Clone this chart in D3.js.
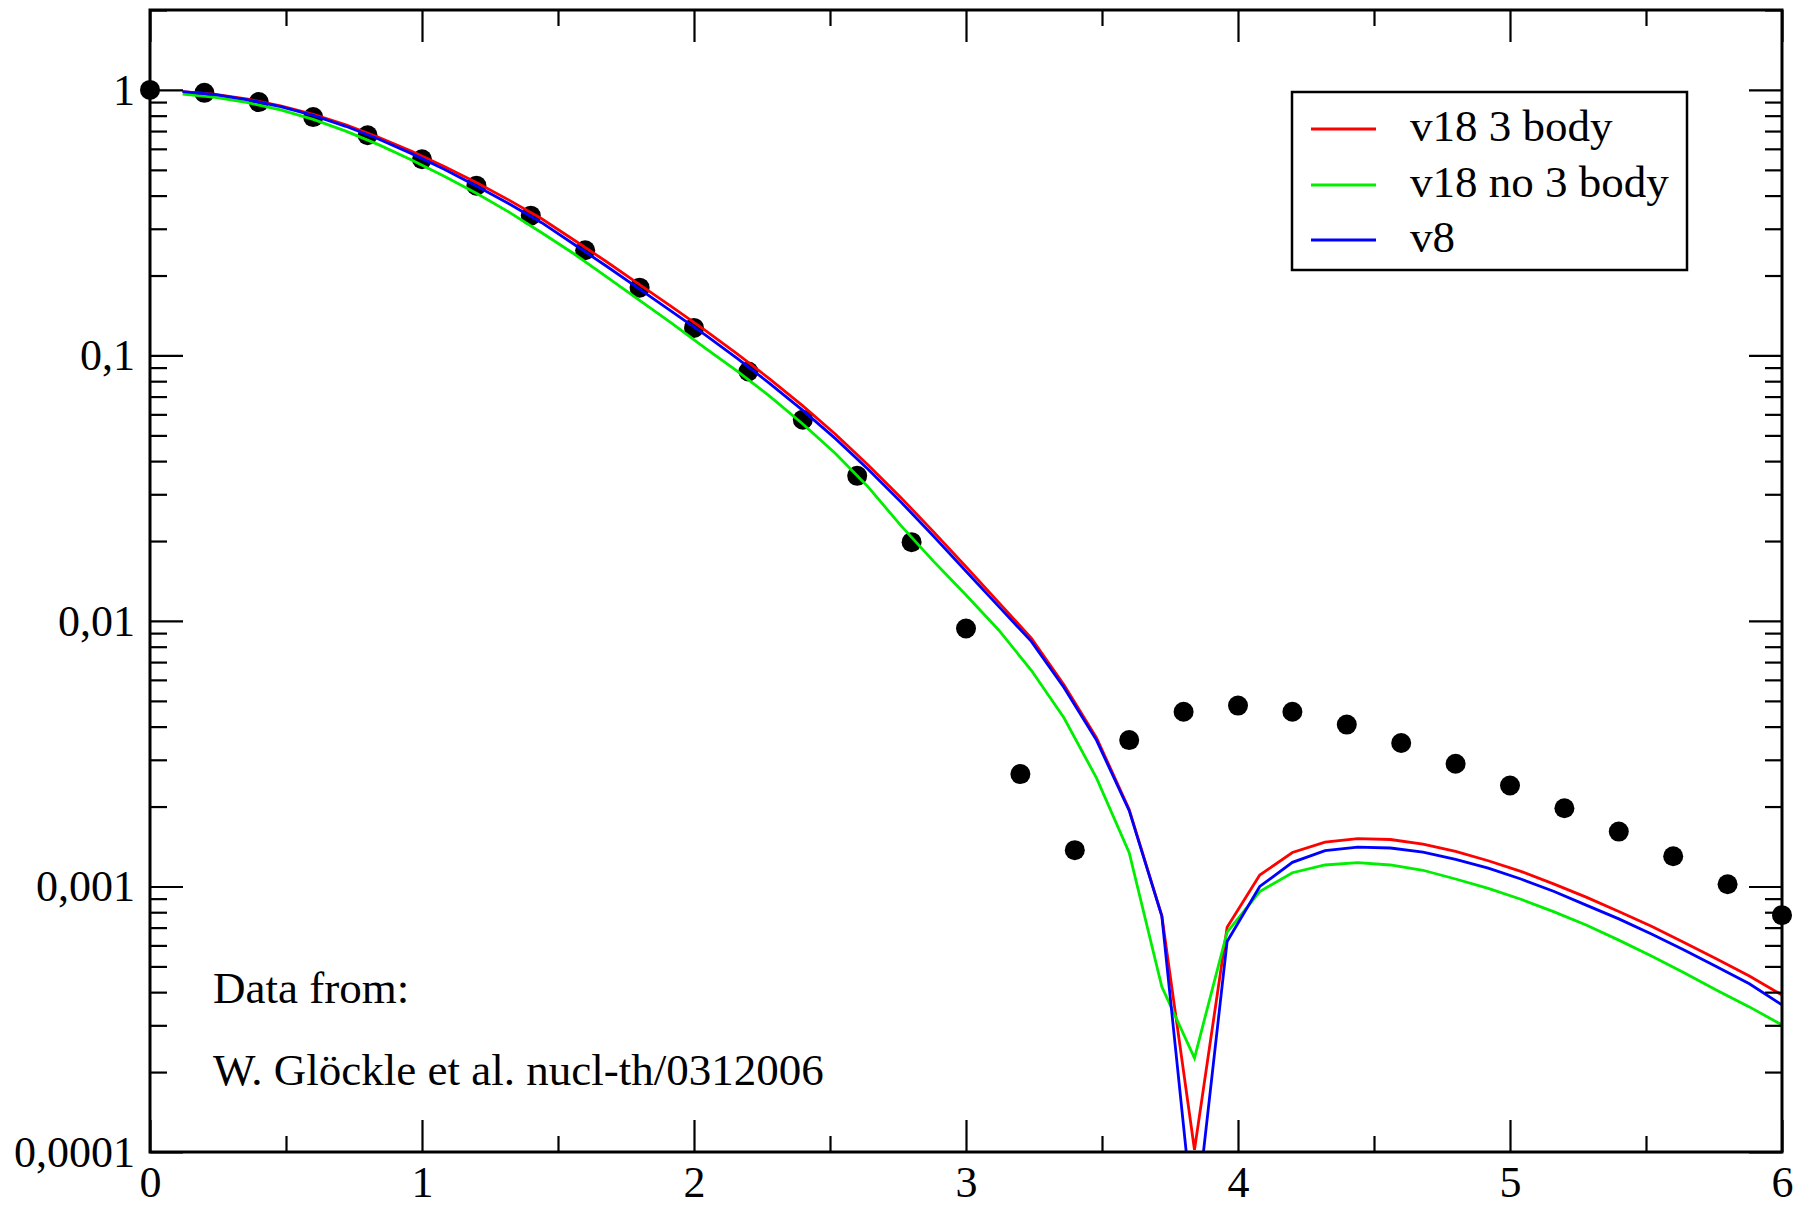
<!DOCTYPE html>
<html>
<head>
<meta charset="utf-8">
<script src="https://cdn.jsdelivr.net/npm/d3@7"></script>
<style>
  html, body { margin: 0; padding: 0; background: #fff; }
  svg { display: block; }
  text { font-family: "Liberation Serif", "Times New Roman", serif; fill: #000; }
</style>
</head>
<body>
<svg id="chart" width="1798" height="1207"></svg>
<script>
// ---- data ----
const curveX = [0.12,0.24,0.36,0.48,0.60,0.72,0.84,0.96,1.08,1.20,1.32,1.44,1.56,1.68,1.80,1.92,2.04,2.16,2.28,2.40,
  2.52,2.64,2.76,2.88,3.00,3.12,3.24,3.36,3.48,3.60,3.72,3.84,3.96,4.08,4.20,4.32,4.44,4.56,4.68,4.80,
  4.92,5.04,5.16,5.28,5.40,5.52,5.64,5.76,5.88,6.00];

const v18ThreeBody = [0.9863,0.9616,0.9226,0.8710,0.8091,0.7396,0.6637,0.5888,0.5164,0.4477,0.3846,0.3273,0.2716,0.2249,0.1849,0.1521,0.1245,0.1012,0.0813,0.0646,
  0.0505,0.0387,0.0292,0.0217,0.0160,0.01175,0.00861,0.00575,0.00363,0.00195,0.000776,0.000102,0.000702,0.001104,0.001343,0.001469,0.001514,0.001503,0.001445,0.001355,
  0.001250,0.001140,0.001023,0.000912,0.000805,0.000708,0.000615,0.000533,0.000460,0.000390];

const v18NoThreeBody = [0.9638,0.9376,0.8954,0.8414,0.7745,0.6998,0.6223,0.5458,0.4742,0.4083,0.3467,0.2897,0.2410,0.1972,0.1611,0.1318,0.1067,0.0871,0.0700,0.0552,
  0.0427,0.0320,0.0229,0.0168,0.01253,0.00925,0.00652,0.00432,0.00256,0.00134,0.000419,0.000226,0.000673,0.000957,0.001127,0.001205,0.001230,0.001205,0.001151,0.001067,
  0.000984,0.000895,0.000804,0.000716,0.000628,0.000547,0.000473,0.000407,0.000352,0.000301];

const v8 = [0.9863,0.9594,0.9183,0.8650,0.8017,0.7295,0.6531,0.5768,0.5035,0.4345,0.3724,0.3162,0.2618,0.2163,0.1778,0.1459,0.1197,0.0973,0.0782,0.0621,
  0.0486,0.0373,0.0281,0.0209,0.0154,0.01135,0.00838,0.00562,0.00355,0.00193,0.000773,0.0000501,0.000621,0.001000,0.001233,0.001365,0.001406,0.001396,0.001346,0.001265,
  0.001172,0.001067,0.000959,0.000851,0.000755,0.000662,0.000577,0.000499,0.000430,0.000358];

const dataX = [0,0.2,0.4,0.6,0.8,1.0,1.2,1.4,1.6,1.8,2.0,2.2,2.4,2.6,2.8,3.0,3.2,3.4,3.6,3.8,4.0,4.2,4.4,4.6,4.8,5.0,5.2,5.4,5.6,5.8,6.0];
const dataY = [1.0,0.975,0.90,0.79,0.675,0.548,0.436,0.336,0.249,0.18,0.127,0.087,0.0573,0.0352,0.0198,0.00937,0.00265,0.00137,0.00356,0.00455,0.0048,0.00455,0.00407,0.00347,0.0029,0.0024,0.00197,0.00161,0.0013,0.00102,0.00078];

const seriesNames = ["v18 3 body", "v18 no 3 body", "v8"];
const seriesColors = ["#ff0000", "#00ee00", "#0000ff"];

const xTicks = [0,1,2,3,4,5,6];
const xTickLabels = ["0","1","2","3","4","5","6"];
const xMinorTicks = [0.5,1.5,2.5,3.5,4.5,5.5];
const yTicks = [0.0001,0.001,0.01,0.1,1];
const yTickLabels = ["0,0001","0,001","0,01","0,1","1"];
const yMinorTicks = [];
[0.0001,0.001,0.01,0.1,1].forEach(d => { for (let m = 2; m <= 9; m++) { const v = d*m; if (v <= 2) yMinorTicks.push(v); } });

const annotation = ["Data from:", "W. Glöckle et al. nucl-th/0312006"];

// ---- layout ----
const L = 150, R = 1782, T = 10, B = 1152;
const svg = d3.select("#chart");

const x = d3.scaleLinear().domain([0, 6]).range([L, R]);
const y = d3.scaleLog().domain([0.0001, 2]).range([B, T]);

svg.append("defs").append("clipPath").attr("id", "plotclip")
  .append("rect").attr("x", L).attr("y", T).attr("width", R - L).attr("height", B - T);

// data points (under curves)
svg.append("g").selectAll("circle").data(dataX.map((d, i) => [d, dataY[i]])).join("circle")
  .attr("cx", d => x(d[0])).attr("cy", d => y(d[1])).attr("r", 10).attr("fill", "#000");

// curves
const allSeries = [v18ThreeBody, v18NoThreeBody, v8];
const line = d3.line().x(d => x(d[0])).y(d => y(d[1]));
const cg = svg.append("g").attr("clip-path", "url(#plotclip)");
allSeries.forEach((s, i) => {
  cg.append("path").datum(curveX.map((cx, j) => [cx, s[j]]))
    .attr("d", line).attr("fill", "none").attr("stroke", seriesColors[i])
    .attr("stroke-width", 2.8).attr("stroke-linejoin", "miter");
});

// axes
function styleAxis(g) {
  g.select(".domain").remove();
  g.selectAll(".tick line").attr("stroke", "#000").attr("stroke-width", 2.2);
  g.selectAll(".tick text").attr("font-family", '"Liberation Serif", "Times New Roman", serif')
    .attr("font-size", 44).attr("fill", "#000");
}
const majorLen = 32, minorLen = 16;
svg.append("g").attr("transform", `translate(0,${B})`)
  .call(d3.axisBottom(x).tickValues(xTicks).tickSize(-majorLen).tickPadding(14)
    .tickFormat((d, i) => xTickLabels[i])).call(styleAxis);
svg.append("g").attr("transform", `translate(0,${B})`)
  .call(d3.axisBottom(x).tickValues(xMinorTicks).tickSize(-minorLen).tickFormat("")).call(styleAxis);
svg.append("g").attr("transform", `translate(0,${T})`)
  .call(d3.axisTop(x).tickValues(xTicks).tickSize(-majorLen).tickFormat("")).call(styleAxis);
svg.append("g").attr("transform", `translate(0,${T})`)
  .call(d3.axisTop(x).tickValues(xMinorTicks).tickSize(-minorLen).tickFormat("")).call(styleAxis);

svg.append("g").attr("transform", `translate(${L},0)`)
  .call(d3.axisLeft(y).tickValues(yTicks).tickSize(-majorLen - 1).tickPadding(15)
    .tickFormat((d, i) => yTickLabels[i])).call(styleAxis);
svg.append("g").attr("transform", `translate(${L},0)`)
  .call(d3.axisLeft(y).tickValues(yMinorTicks).tickSize(-minorLen - 1).tickFormat("")).call(styleAxis);
svg.append("g").attr("transform", `translate(${R},0)`)
  .call(d3.axisRight(y).tickValues(yTicks).tickSize(-majorLen - 1).tickFormat("")).call(styleAxis);
svg.append("g").attr("transform", `translate(${R},0)`)
  .call(d3.axisRight(y).tickValues(yMinorTicks).tickSize(-minorLen - 1).tickFormat("")).call(styleAxis);

// frame
svg.append("rect").attr("x", L).attr("y", T).attr("width", R - L).attr("height", B - T)
  .attr("fill", "none").attr("stroke", "#000").attr("stroke-width", 3);

// legend
const lg = svg.append("g");
lg.append("rect").attr("x", 1292).attr("y", 92).attr("width", 395).attr("height", 178)
  .attr("fill", "#fff").attr("stroke", "#000").attr("stroke-width", 2.5);
const legendY = [129, 185, 240];
seriesNames.forEach((n, i) => {
  lg.append("line").attr("x1", 1311).attr("x2", 1376).attr("y1", legendY[i]).attr("y2", legendY[i])
    .attr("stroke", seriesColors[i]).attr("stroke-width", 2.8);
  lg.append("text").attr("x", 1410).attr("y", legendY[i] + 12).attr("font-size", 45).text(n);
});

// annotation
svg.append("text").attr("x", 213).attr("y", 1003).attr("font-size", 45).text(annotation[0]);
svg.append("text").attr("x", 213).attr("y", 1085).attr("font-size", 45).text(annotation[1]);
</script>
</body>
</html>
